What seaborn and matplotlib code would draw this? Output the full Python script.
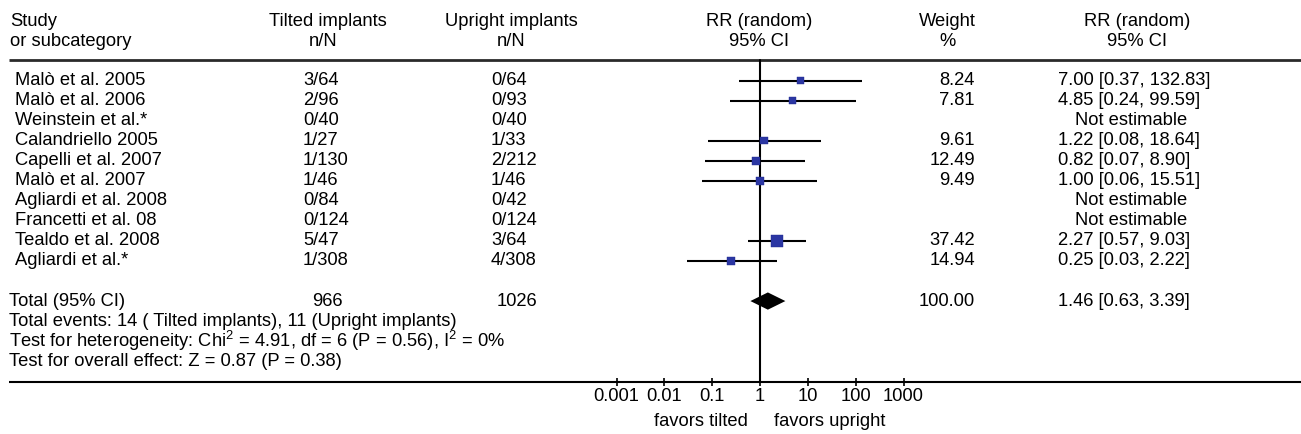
import numpy as np
import pandas as pd
import matplotlib
matplotlib.use("Agg")
import matplotlib.pyplot as plt
import seaborn as sns

# ---- data ----
studies = ["Malò et al. 2005", "Malò et al. 2006", "Weinstein et al.*", "Calandriello 2005",
           "Capelli et al. 2007", "Malò et al. 2007", "Agliardi et al. 2008", "Francetti et al. 08",
           "Tealdo et al. 2008", "Agliardi et al.*"]
tilted = ["3/64", "2/96", "0/40", "1/27", "1/130", "1/46", "0/84", "0/124", "5/47", "1/308"]
upright = ["0/64", "0/93", "0/40", "1/33", "2/212", "1/46", "0/42", "0/124", "3/64", "4/308"]
rr = [7.00, 4.85, np.nan, 1.22, 0.82, 1.00, np.nan, np.nan, 2.27, 0.25]
rr_lo = [0.37, 0.24, np.nan, 0.08, 0.07, 0.06, np.nan, np.nan, 0.57, 0.03]
rr_hi = [132.83, 99.59, np.nan, 18.64, 8.90, 15.51, np.nan, np.nan, 9.03, 2.22]
weight = [8.24, 7.81, np.nan, 9.61, 12.49, 9.49, np.nan, np.nan, 37.42, 14.94]

total_n = ["966", "1026"]
total_rr, total_lo, total_hi = 1.46, 0.63, 3.39
total_weight = 100.00
footer = ["Total events: 14 ( Tilted implants), 11 (Upright implants)",
          r"Test for heterogeneity: Chi$\mathregular{^2}$ = 4.91, df = 6 (P = 0.56), I$\mathregular{^2}$ = 0%",
          "Test for overall effect: Z = 0.87 (P = 0.38)"]
tick_vals = [0.001, 0.01, 0.1, 1, 10, 100, 1000]
tick_labels = ["0.001", "0.01", "0.1", "1", "10", "100", "1000"]

df = pd.DataFrame({"study": studies, "tilted": tilted, "upright": upright,
                   "rr": rr, "lo": rr_lo, "hi": rr_hi, "weight": weight})
df["row"] = np.arange(len(df))

sns.set_theme(style="white")
plt.rcParams["font.family"] = ["Liberation Sans", "DejaVu Sans"]
plt.rcParams["mathtext.fontset"] = "custom"
plt.rcParams["mathtext.rm"] = "Liberation Sans"
plt.rcParams["text.color"] = "black"
plt.rcParams["xtick.color"] = "black"
plt.rcParams["xtick.labelcolor"] = "black"
FS = 13.2

W, H = 1301, 434
fig = plt.figure(figsize=(W / 100, H / 100), dpi=100)
fig.patch.set_facecolor("white")

# y in "row" units: row r sits at pixel 80.5 + 20.05 * r
def row_of(py):
    return (py - 80.5) / 20.05

y_top, y_bot = row_of(0), row_of(H)
rule_y = row_of(382.3)

# text layer in pixel x, row y
tax = fig.add_axes([0, 0, 1, 1])
tax.set_xlim(0, W)
tax.set_ylim(y_bot, y_top)
tax.axis("off")

# forest panel: log axis from 0.001 (px 616.5) to 1000 (px 903.5), bottom at the lower rule
fax = fig.add_axes([616.5 / W, (H - 382.3) / H, 287 / W, 382.3 / H])
fax.set_xscale("log")
fax.set_xlim(1e-3, 1e3)
fax.set_ylim(rule_y, y_top)
fax.patch.set_alpha(0)
for s in ["top", "left", "right", "bottom"]:
    fax.spines[s].set_visible(False)

# header
hdr_y1, hdr_y2 = row_of(21.7), row_of(41.7)
tax.text(10, hdr_y1, "Study", fontsize=FS, va="center", ha="left")
tax.text(10, hdr_y2, "or subcategory", fontsize=FS, va="center", ha="left")
tax.text(328, hdr_y1, "Tilted implants", fontsize=FS, va="center", ha="center")
tax.text(323, hdr_y2, "n/N", fontsize=FS, va="center", ha="center")
tax.text(511, hdr_y1, "Upright implants", fontsize=FS, va="center", ha="center")
tax.text(511, hdr_y2, "n/N", fontsize=FS, va="center", ha="center")
tax.text(759, hdr_y1, "RR (random)", fontsize=FS, va="center", ha="center")
tax.text(759, hdr_y2, "95% CI", fontsize=FS, va="center", ha="center")
tax.text(947, hdr_y1, "Weight", fontsize=FS, va="center", ha="center")
tax.text(947, hdr_y2, "%", fontsize=FS, va="center", ha="center")
tax.text(1137, hdr_y1, "RR (random)", fontsize=FS, va="center", ha="center")
tax.text(1137, hdr_y2, "95% CI", fontsize=FS, va="center", ha="center")

tax.plot([9, W], [row_of(60), row_of(60)], color="#2a2a2a", lw=2.0, solid_capstyle="butt")
tax.plot([9, W], [rule_y, rule_y], color="black", lw=1.5, solid_capstyle="butt")

# study rows
for _, r in df.iterrows():
    y = r["row"]
    tax.text(15, y, r["study"], fontsize=FS, va="center", ha="left")
    tax.text(303, y, r["tilted"], fontsize=FS, va="center", ha="left")
    tax.text(491, y, r["upright"], fontsize=FS, va="center", ha="left")
    if np.isnan(r["rr"]):
        tax.text(1131, y, "Not estimable", fontsize=FS, va="center", ha="center")
    else:
        tax.text(975, y, f"{r['weight']:.2f}", fontsize=FS, va="center", ha="right")
        tax.text(1058, y, f"{r['rr']:.2f} [{r['lo']:.2f}, {r['hi']:.2f}]",
                 fontsize=FS, va="center", ha="left")

# totals and footer
tot_row = len(df) + 1
tax.text(9, tot_row, "Total (95% CI)", fontsize=FS, va="center", ha="left")
tax.text(312, tot_row, total_n[0], fontsize=FS, va="center", ha="left")
tax.text(497, tot_row, total_n[1], fontsize=FS, va="center", ha="left")
tax.text(975, tot_row, f"{total_weight:.2f}", fontsize=FS, va="center", ha="right")
tax.text(1058, tot_row, f"{total_rr:.2f} [{total_lo:.2f}, {total_hi:.2f}]",
         fontsize=FS, va="center", ha="left")
for i, line in enumerate(footer):
    tax.text(9, tot_row + 1 + i, line, fontsize=FS, va="center", ha="left")

# forest marks
est = df.dropna(subset=["rr"])
fax.axvline(1, ymin=0, ymax=(rule_y - row_of(60)) / (rule_y - y_top), color="black", lw=1.5)
fax.hlines(est["row"], est["lo"], est["hi"], color="black", lw=1.5)
sns.scatterplot(data=est, x="rr", y="row", size="weight", sizes=(28, 66), marker="s",
                color="#2b36a3", edgecolor="#1f2a8c", linewidth=0.3, legend=False, ax=fax, zorder=3)
dh = 0.43
fax.fill([total_lo, total_rr, total_hi, total_rr],
         [tot_row, tot_row - dh, tot_row, tot_row + dh], color="black", lw=0, zorder=3)

fax.set_xlabel("")
fax.set_ylabel("")
fax.set_yticks([])
fax.set_xticks(tick_vals)
fax.set_xticklabels(tick_labels)
fax.minorticks_off()
fax.tick_params(axis="x", bottom=True, direction="inout", length=5.5, width=1.2,
                labelsize=FS, pad=1.5, color="black")

fax.text(748, row_of(421.7), "favors tilted", fontsize=FS, va="center", ha="right",
         transform=tax.transData)
fax.text(774, row_of(421.7), "favors upright", fontsize=FS, va="center", ha="left",
         transform=tax.transData)

fig.savefig("out.png", dpi=100, facecolor="white")
